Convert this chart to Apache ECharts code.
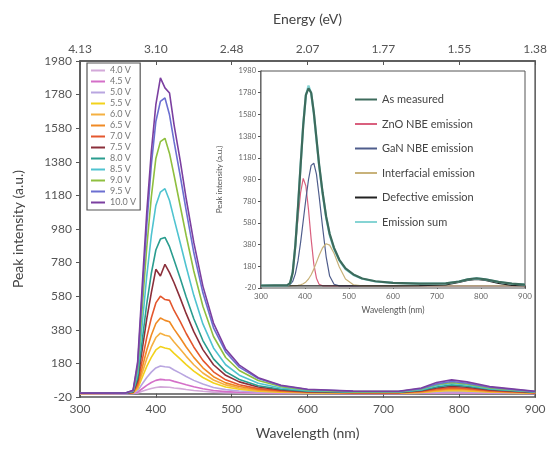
<!DOCTYPE html>
<html>
<head>
<meta charset="utf-8">
<script src="https://cdn.jsdelivr.net/npm/echarts@6/dist/echarts.min.js"></script>
<style>
  html, body { margin: 0; padding: 0; background: #fff; }
  #chart { width: 550px; height: 449px; }
</style>
</head>
<body>
<div id="chart"></div>
<script>
// wavelength grid (nm) for the main spectra
const wl = [300, 360, 370, 376, 382, 388, 394, 400, 406, 412, 418, 424, 432, 440, 450, 462, 476, 492, 510, 535, 565, 600, 660, 720, 750, 770, 790, 810, 840, 900];

const v40 = [0, 0, 1, 4, 14, 23, 31, 37, 40, 39, 38, 34, 30, 25, 19, 14, 9, 6, 4, 2, 1, 1, 1, 1, 2, 3, 4, 3, 2, 1];
const v45 = [0, 1, 2, 9, 29, 49, 66, 79, 85, 82, 81, 73, 63, 53, 41, 29, 19, 12, 8, 5, 3, 2, 1, 1, 3, 5, 7, 6, 4, 1];
const v50 = [1, 1, 3, 17, 57, 96, 128, 153, 165, 160, 157, 141, 122, 102, 79, 57, 37, 24, 16, 9, 5, 3, 2, 2, 5, 9, 12, 10, 6, 2];
const v55 = [1, 2, 4, 29, 96, 162, 216, 260, 280, 272, 266, 240, 207, 173, 134, 96, 63, 40, 26, 15, 9, 5, 3, 3, 7, 14, 19, 16, 10, 3];
const v60 = [1, 2, 5, 37, 123, 208, 278, 334, 360, 348, 342, 307, 266, 222, 172, 123, 81, 52, 34, 19, 11, 6, 4, 4, 9, 18, 25, 21, 12, 4];
const v65 = [2, 3, 6, 46, 154, 260, 348, 418, 450, 436, 428, 384, 333, 278, 216, 154, 101, 64, 42, 24, 14, 8, 5, 5, 11, 22, 30, 26, 15, 5];
const v70 = [2, 3, 7, 60, 198, 335, 450, 540, 580, 560, 555, 495, 430, 358, 278, 198, 130, 82, 53, 30, 17, 10, 6, 6, 14, 28, 36, 31, 18, 6];
const v75 = [2, 3, 9, 78, 262, 445, 600, 740, 700, 770, 720, 660, 570, 476, 369, 262, 172, 109, 70, 40, 22, 12, 7, 7, 17, 34, 44, 38, 22, 7];
const v80 = [2, 3, 11, 95, 315, 535, 715, 855, 920, 930, 875, 795, 688, 575, 446, 316, 207, 131, 84, 47, 26, 14, 8, 8, 20, 40, 52, 44, 26, 8];
const v85 = [3, 4, 14, 122, 410, 700, 940, 1120, 1200, 1220, 1150, 1040, 900, 755, 585, 415, 272, 172, 110, 62, 34, 18, 10, 10, 24, 48, 60, 51, 30, 10];
const v90 = [3, 4, 16, 150, 510, 870, 1170, 1400, 1500, 1520, 1430, 1300, 1120, 940, 730, 520, 340, 215, 138, 78, 42, 22, 12, 12, 28, 54, 66, 57, 34, 11];
const v95 = [3, 4, 18, 170, 590, 1000, 1360, 1620, 1740, 1760, 1660, 1500, 1300, 1090, 840, 600, 392, 248, 158, 90, 47, 25, 14, 13, 30, 58, 72, 62, 38, 12];
const v100 = [3, 4, 20, 190, 640, 1080, 1440, 1720, 1880, 1820, 1790, 1600, 1390, 1160, 900, 640, 420, 265, 170, 95, 50, 26, 15, 14, 34, 66, 82, 70, 42, 14];

const voltNames = ['4.0 V', '4.5 V', '5.0 V', '5.5 V', '6.0 V', '6.5 V', '7.0 V', '7.5 V', '8.0 V', '8.5 V', '9.0 V', '9.5 V', '10.0 V'];
const voltData = [v40, v45, v50, v55, v60, v65, v70, v75, v80, v85, v90, v95, v100];
const voltColors = ['#d3a9d9', '#d46fc8', '#b9a6e0', '#f2d21b', '#f5b041', '#f08a24', '#e4572e', '#8b2f3a', '#2a9d8f', '#4fc3d0', '#8fbf3f', '#6b6fd1', '#7b3fa0'];

// inset: fitted components
const iwl = [300, 360, 366, 372, 378, 384, 390, 396, 402, 408, 414, 420, 426, 432, 440, 448, 456, 466, 478, 492, 510, 530, 560, 600, 660, 720, 750, 770, 790, 810, 840, 870, 900];
const measured = [3, 6, 25, 120, 370, 720, 1110, 1480, 1760, 1820, 1780, 1600, 1360, 1120, 860, 640, 480, 350, 240, 160, 105, 68, 42, 28, 20, 22, 40, 60, 70, 60, 36, 20, 12];
const znoNbe = [0, 0, 20, 130, 350, 620, 860, 990, 920, 700, 430, 200, 70, 15, 0, 0, 0, 0, 0, 0, 0, 0, 0, 0, 0, 0, 0, 0, 0, 0, 0, 0, 0];
const ganNbe = [0, 0, 10, 40, 110, 230, 400, 600, 800, 980, 1110, 1130, 1030, 830, 540, 270, 90, 15, 0, 0, 0, 0, 0, 0, 0, 0, 0, 0, 0, 0, 0, 0, 0];
const interfacial = [0, 0, 0, 1, 2, 4, 9, 19, 36, 63, 102, 154, 216, 279, 351, 388, 375, 300, 174, 63, 9, 0, 0, 0, 0, 0, 0, 0, 0, 0, 0, 0, 0];
const defective = [0, 0, 0, 0, 0, 0, 0, 0, 0, 0, 0, 0, 0, 0, 0, 0, 0, 0, 0, 0, 0, 0, 0, 0, 1, 8, 31, 51, 60, 51, 22, 4, 1];
const emissionSum = [2, 5, 20, 125, 365, 720, 1115, 1490, 1755, 1845, 1775, 1590, 1350, 1110, 850, 630, 470, 340, 235, 155, 100, 65, 40, 27, 20, 22, 40, 60, 69, 59, 35, 19, 11];

const insetNames = ['As measured', 'ZnO NBE emission', 'GaN NBE emission', 'Interfacial emission', 'Defective emission', 'Emission sum'];
const insetData = [measured, znoNbe, ganNbe, interfacial, defective, emissionSum];
const insetColors = ['#3d6b5c', '#d9607e', '#4f5d8c', '#c8b27a', '#222222', '#86d4d4'];
const insetWidths = [2.2, 1.2, 1.2, 1.2, 1.2, 2.2];

const yTicks = [-20, 180, 380, 580, 780, 980, 1180, 1380, 1580, 1780, 1980];
const font = 'Lato';
const plain = v => String(v);

const chart = echarts.init(document.getElementById('chart'));

const mainSeries = voltData.map((arr, i) => ({
  name: voltNames[i],
  type: 'line',
  xAxisIndex: 0,
  yAxisIndex: 0,
  symbol: 'none',
  lineStyle: { width: 1.6, color: voltColors[i] },
  itemStyle: { color: voltColors[i] },
  data: wl.map((w, j) => [w, arr[j]]),
}));

const insetSeries = insetData.map((arr, i) => ({
  name: insetNames[i],
  type: 'line',
  xAxisIndex: 2,
  yAxisIndex: 1,
  symbol: 'none',
  z: i === 0 ? 8 : 7,
  lineStyle: { width: insetWidths[i], color: insetColors[i] },
  itemStyle: { color: insetColors[i] },
  data: iwl.map((w, j) => [w, arr[j]]),
}));

const option = {
  animation: false,
  backgroundColor: '#fff',
  textStyle: { fontFamily: font },
  grid: [
    { left: 80, right: 13, top: 61, bottom: 52, show: true, borderColor: '#555', borderWidth: 1.5 },
    { left: 261, right: 25, top: 71, bottom: 161, show: true, borderColor: '#555', borderWidth: 1, backgroundColor: '#fff', z: 5 },
  ],
  legend: [
    {
      data: voltNames,
      orient: 'vertical',
      left: 87,
      top: 63,
      icon: 'rect',
      itemWidth: 14,
      itemHeight: 2,
      itemGap: 2,
      padding: [3, 4, 3, 4],
      borderColor: '#555',
      borderWidth: 1.2,
      backgroundColor: '#fff',
      z: 9,
      textStyle: { fontSize: 9, color: '#777', fontFamily: font, lineHeight: 9 },
    },
    {
      data: insetNames,
      orient: 'vertical',
      left: 350,
      top: 89,
      icon: 'rect',
      itemWidth: 22,
      itemHeight: 2,
      itemGap: 13.5,
      z: 9,
      textStyle: { fontSize: 11, color: '#444', fontFamily: font },
    },
  ],
  xAxis: [
    {
      gridIndex: 0, type: 'value', min: 300, max: 900, interval: 100,
      name: 'Wavelength (nm)', nameLocation: 'middle', nameGap: 29,
      nameTextStyle: { fontSize: 14, color: '#444' },
      axisLine: { lineStyle: { color: '#555', width: 1.5 } },
      axisTick: { show: true, length: 4, lineStyle: { color: '#555' } },
      axisLabel: { fontSize: 12, color: '#555', margin: 6, formatter: plain },
      splitLine: { show: false },
    },
    {
      gridIndex: 0, type: 'value', position: 'top', min: 300, max: 900, interval: 100,
      name: 'Energy (eV)', nameLocation: 'middle', nameGap: 35,
      nameTextStyle: { fontSize: 14, color: '#444' },
      axisLine: { lineStyle: { color: '#555', width: 1.5 } },
      axisTick: { show: true, inside: true, length: 4, lineStyle: { color: '#555' } },
      axisLabel: { fontSize: 12, color: '#555', margin: 6, formatter: v => (1240 / v).toFixed(2) },
      splitLine: { show: false },
    },
    {
      gridIndex: 1, type: 'value', min: 300, max: 900, interval: 100,
      name: 'Wavelength (nm)', nameLocation: 'middle', nameGap: 18,
      nameTextStyle: { fontSize: 8.5, color: '#555' },
      axisLine: { lineStyle: { color: '#555', width: 1.5 } },
      axisTick: { show: true, length: 3, lineStyle: { color: '#555' } },
      axisLabel: { fontSize: 8, color: '#666', margin: 4, formatter: plain },
      splitLine: { show: false },
    },
  ],
  yAxis: [
    {
      gridIndex: 0, type: 'value', min: -20, max: 1980,
      name: 'Peak intensity (a.u.)', nameLocation: 'middle', nameGap: 55,
      nameTextStyle: { fontSize: 14, color: '#444' },
      axisLine: { show: true, lineStyle: { color: '#555', width: 1.5 } },
      axisTick: { show: true, length: 4, customValues: yTicks, lineStyle: { color: '#555' } },
      axisLabel: { fontSize: 12, color: '#555', margin: 8, customValues: yTicks, formatter: plain },
      splitLine: { show: false },
    },
    {
      gridIndex: 1, type: 'value', min: -20, max: 1980,
      name: 'Peak intensity (a.u.)', nameLocation: 'middle', nameGap: 38,
      nameTextStyle: { fontSize: 8, color: '#555' },
      axisLine: { show: true, lineStyle: { color: '#555', width: 1.5 } },
      axisTick: { show: true, length: 3, customValues: yTicks, lineStyle: { color: '#555' } },
      axisLabel: { fontSize: 7.5, color: '#666', margin: 5, customValues: yTicks, formatter: plain },
      splitLine: { show: false },
    },
  ],
  series: mainSeries.concat(insetSeries),
};

chart.setOption(option);
</script>
</body>
</html>
